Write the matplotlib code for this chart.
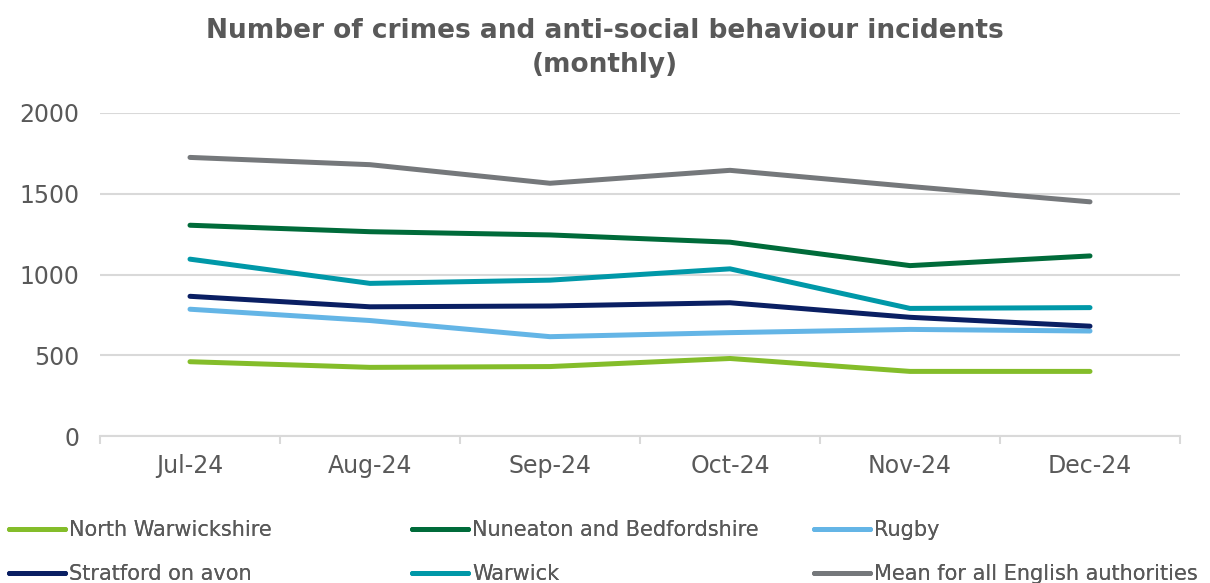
import numpy as np
import matplotlib
matplotlib.use("Agg")
import matplotlib.pyplot as plt

# Monthly incident counts per area
months = ["Jul-24", "Aug-24", "Sep-24", "Oct-24", "Nov-24", "Dec-24"]
north_warwickshire = [460, 425, 430, 480, 400, 400]
nuneaton_bedworth = [1305, 1265, 1245, 1200, 1055, 1115]
rugby = [785, 715, 615, 640, 660, 650]
stratford = [865, 800, 805, 825, 735, 680]
warwick = [1095, 945, 965, 1035, 790, 795]
england_mean = [1725, 1680, 1565, 1645, 1545, 1450]

series = [
    ("North Warwickshire", north_warwickshire, "#84bd2a"),
    ("Nuneaton and Bedfordshire", nuneaton_bedworth, "#006b3a"),
    ("Rugby", rugby, "#64b5e6"),
    ("Stratford on avon", stratford, "#0a1f63"),
    ("Warwick", warwick, "#0098a8"),
    ("Mean for all English authorities", england_mean, "#75787b"),
]

text_col = "#595959"
grid_col = "#d9d9d9"

fig = plt.figure(figsize=(12.1, 5.83), dpi=100)
ax = fig.add_axes([100 / 1210, 1 - 436 / 583, 1080 / 1210, 323 / 583])

x = np.arange(len(months))
handles = []
for name, vals, col in series:
    h, = ax.plot(x, vals, color=col, lw=3.6, solid_capstyle="round",
                 solid_joinstyle="round", label=name)
    handles.append(h)

ax.set_xlim(-0.5, len(months) - 0.5)
ax.set_ylim(0, 2000)
ax.set_yticks([0, 500, 1000, 1500, 2000])
ax.yaxis.grid(True, color=grid_col, lw=1.5)
ax.set_axisbelow(True)
for s in ["top", "right", "left"]:
    ax.spines[s].set_visible(False)
ax.spines["bottom"].set_color(grid_col)
ax.spines["bottom"].set_linewidth(1.5)

ax.set_xticks(x)
ax.set_xticklabels(months)
ax.set_xticks(np.arange(-0.5, len(months)), minor=True)
ax.tick_params(axis="x", which="major", length=0, pad=13, labelsize=17, labelcolor=text_col)
ax.tick_params(axis="x", which="minor", length=6, width=1.5, color=grid_col)
ax.tick_params(axis="y", length=0, pad=15, labelsize=17, labelcolor=text_col)

fig.text(0.5, 1 - 48 / 583, "Number of crimes and anti-social behaviour incidents\n(monthly)",
         ha="center", va="center", fontsize=19, fontweight="bold", color=text_col,
         linespacing=1.4)

# three legend columns placed at fixed positions
col_x = [9 / 1210, 412 / 1210, 814 / 1210]
for i, cx in enumerate(col_x):
    hs = [handles[i], handles[i + 3]]
    leg = fig.legend(handles=hs, loc="upper left", bbox_to_anchor=(cx, 1 - 520 / 583),
                     frameon=False, fontsize=15, handlelength=2.7, handletextpad=0.2,
                     labelspacing=1.15, borderpad=0, borderaxespad=0, labelcolor=text_col)
    fig.add_artist(leg)

fig.savefig("out.png", dpi=100)
